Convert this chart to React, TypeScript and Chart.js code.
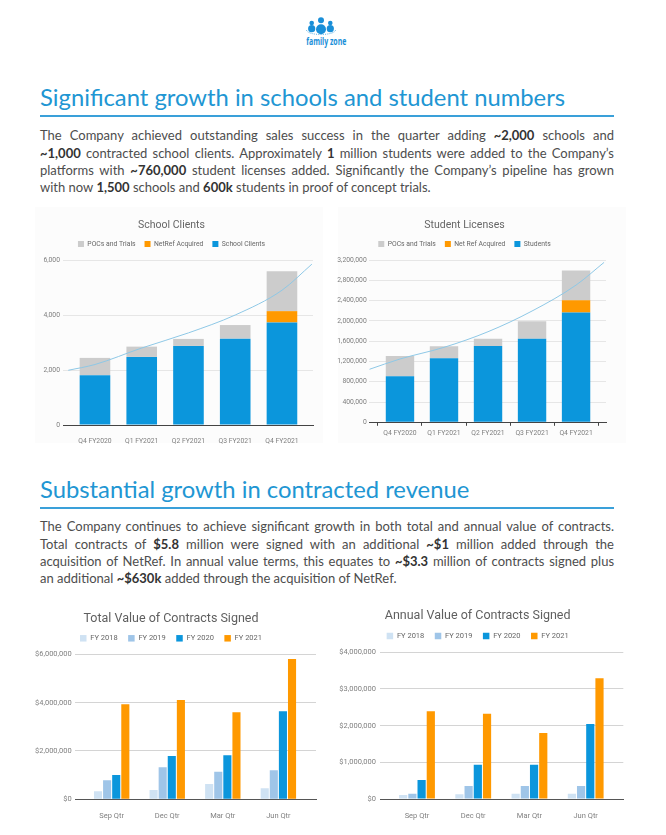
import React, { useEffect, useRef } from 'react';
import { Chart, registerables } from 'chart.js';

Chart.register(...registerables);

// ---------------- DATA ----------------
const quarters = ['Q4 FY2020', 'Q1 FY2021', 'Q2 FY2021', 'Q3 FY2021', 'Q4 FY2021'];

const schoolClients = [1810, 2475, 2875, 3140, 3730];
const schoolNetRef = [0, 0, 0, 0, 410];
const schoolPocs = [630, 375, 255, 495, 1450];
const schoolTrendX = [-0.571, 0, 1, 2, 3, 4, 4.64];
const schoolTrendY = [1990, 2200, 2800, 3350, 4000, 4900, 5850];

const students = [906000, 1261000, 1504000, 1649000, 2167000];
const studentNetRef = [0, 0, 0, 0, 237000];
const studentPocs = [401000, 236000, 145000, 341000, 591000];
const studentTrendX = [-0.697, 0, 1, 2, 3, 4, 4.636];
const studentTrendY = [1044000, 1248000, 1478000, 1786000, 2194000, 2706000, 3153000];

const contractQuarters = ['Sep Qtr', 'Dec Qtr', 'Mar Qtr', 'Jun Qtr'];
const fyLabels = ['FY 2018', 'FY 2019', 'FY 2020', 'FY 2021'];

const totalFY2018 = [331000, 386000, 634000, 455000];
const totalFY2019 = [786000, 1324000, 1145000, 1200000];
const totalFY2020 = [1007000, 1793000, 1821000, 3641000];
const totalFY2021 = [3931000, 4110000, 3600000, 5807000];

const annualFY2018 = [109000, 127000, 145000, 145000];
const annualFY2019 = [145000, 355000, 355000, 355000];
const annualFY2020 = [518000, 936000, 936000, 2045000];
const annualFY2021 = [2391000, 2327000, 1800000, 3291000];

// ---------------- STYLE ----------------
const BLUE = '#0b96dc';
const ORANGE = '#ff9900';
const GRAY = '#cccccc';
const FY18 = '#cfe2f3';
const FY19 = '#9fc5e8';
const TREND = '#8ec8e6';
const FONT = 'Roboto, "Noto Sans", sans-serif';
const HEAD = '#2196d3';
const TEXT = '#4d4d4d';

const pts = (arr: number[]) => arr.map((v, i) => ({ x: i, y: v }));
const xy = (xs: number[], ys: number[]) => xs.map((x, i) => ({ x, y: ys[i] }));

interface Frame {
  width: number; height: number;
  title: string; titleY: number; titleSize: number; titleColor: string;
  legendY: number; legendSize: number; legendBox: number; legendPad: number;
  areaTop: number; areaBottom: number; areaLeft: number; areaRight: number;
  xMin: number; xMax: number; yMax: number; yStep: number;
  yPad: number; xPad: number; xTicks: boolean; tickSize: number;
  gridColor: string; baseColor: string; money: boolean; stacked: boolean;
  categories: string[]; reverseLegend: boolean;
}

function buildOptions(f: Frame): any {
  const lh = f.titleSize * 1.2;
  const legendTop = f.legendY - f.legendPad - f.legendSize / 2;
  const legendBottom = f.legendY + f.legendSize / 2 + 10;
  const spacer = Math.max(1, f.areaTop - legendBottom);
  return {
    responsive: false,
    animation: false,
    layout: { padding: { left: 0, top: 0, bottom: 0, right: f.width - f.areaRight } },
    plugins: {
      title: {
        display: true,
        text: f.title,
        color: f.titleColor,
        font: { family: FONT, size: f.titleSize, weight: 'normal', lineHeight: 1.2 },
        padding: { top: f.titleY - lh / 2, bottom: legendTop - (f.titleY + lh / 2) },
      },
      subtitle: {
        display: true,
        text: '',
        weight: 500,
        font: { size: 1, lineHeight: 1 },
        padding: { top: spacer - 1, bottom: 0 },
      },
      legend: {
        display: true,
        position: 'top',
        reverse: f.reverseLegend,
        labels: {
          boxWidth: f.legendBox,
          boxHeight: f.legendBox,
          padding: f.legendPad,
          color: '#666666',
          font: { family: FONT, size: f.legendSize },
          filter: (item: any, data: any) => data.datasets[item.datasetIndex].type !== 'line',
        },
      },
      tooltip: { enabled: false },
    },
    scales: {
      x: {
        type: 'linear',
        min: f.xMin,
        max: f.xMax,
        offset: false,
        stacked: f.stacked,
        z: 1,
        grid: f.xTicks
          ? { display: true, drawOnChartArea: false, drawTicks: true, tickLength: 3.5, color: f.baseColor }
          : { display: false },
        border: { display: true, color: f.baseColor, width: 1 },
        ticks: {
          autoSkip: false,
          maxRotation: 0,
          padding: f.xPad,
          color: '#808080',
          font: { family: FONT, size: f.tickSize },
          callback: (v: number) => f.categories[Math.round(v)] ?? '',
        },
        afterBuildTicks: (s: any) => {
          s.ticks = f.categories.map((_, i) => ({ value: i }));
        },
        afterFit: (s: any) => {
          s.height = f.height - f.areaBottom;
        },
      },
      y: {
        min: 0,
        max: f.yMax,
        stacked: f.stacked,
        grid: { color: f.gridColor, drawTicks: false },
        border: { display: false },
        ticks: {
          stepSize: f.yStep,
          padding: f.yPad,
          color: '#808080',
          font: { family: FONT, size: f.tickSize },
          callback: (v: number) => (f.money ? '$' : '') + Number(v).toLocaleString('en-US'),
        },
        afterFit: (s: any) => {
          s.width = f.areaLeft;
        },
      },
    },
  };
}

function ChartBox(props: { left: number; top: number; width: number; height: number; make: () => any }) {
  const ref = useRef<HTMLCanvasElement>(null);
  useEffect(() => {
    const chart = new Chart(ref.current as HTMLCanvasElement, props.make());
    return () => chart.destroy();
  }, []);
  return (
    <div style={{ position: 'absolute', left: props.left, top: props.top, width: props.width, height: props.height }}>
      <canvas ref={ref} width={props.width} height={props.height} style={{ width: props.width, height: props.height, display: 'block' }} />
    </div>
  );
}

const topFrameBase = {
  width: 300, height: 240, titleSize: 10.5, titleColor: '#666666',
  legendSize: 6.8, legendBox: 6, legendPad: 9, tickSize: 6.8,
  gridColor: '#e6e6e6', baseColor: '#444444', money: false, stacked: true,
  categories: quarters, reverseLegend: true,
};

const schoolConfig = () => ({
  type: 'bar',
  data: {
    datasets: [
      { type: 'bar', label: 'School Clients', data: pts(schoolClients), backgroundColor: BLUE, order: 1, stack: 's', categoryPercentage: 0.655, barPercentage: 1 },
      { type: 'bar', label: 'NetRef Acquired', data: pts(schoolNetRef), backgroundColor: ORANGE, order: 1, stack: 's', categoryPercentage: 0.655, barPercentage: 1 },
      { type: 'bar', label: 'POCs and Trials', data: pts(schoolPocs), backgroundColor: GRAY, order: 1, stack: 's', categoryPercentage: 0.655, barPercentage: 1 },
      { type: 'line', label: 'Trend', data: xy(schoolTrendX, schoolTrendY), borderColor: TREND, borderWidth: 1, pointRadius: 0, cubicInterpolationMode: 'monotone', order: 0, stack: 't' },
    ],
  },
  options: buildOptions({
    ...topFrameBase,
    title: 'School Clients', titleY: 20, legendY: 39,
    areaTop: 55, areaBottom: 220, areaLeft: 33, areaRight: 283,
    xMin: -0.684, xMax: 4.664, yMax: 6000, yStep: 2000,
    yPad: 3, xPad: 4.6, xTicks: false,
  } as Frame),
});

const studentConfig = () => ({
  type: 'bar',
  data: {
    datasets: [
      { type: 'bar', label: 'Students', data: pts(students), backgroundColor: BLUE, order: 1, stack: 's', categoryPercentage: 0.645, barPercentage: 1 },
      { type: 'bar', label: 'Net Ref Acquired', data: pts(studentNetRef), backgroundColor: ORANGE, order: 1, stack: 's', categoryPercentage: 0.645, barPercentage: 1 },
      { type: 'bar', label: 'POCs and Trials', data: pts(studentPocs), backgroundColor: GRAY, order: 1, stack: 's', categoryPercentage: 0.645, barPercentage: 1 },
      { type: 'line', label: 'Trend', data: xy(studentTrendX, studentTrendY), borderColor: TREND, borderWidth: 1, pointRadius: 0, cubicInterpolationMode: 'monotone', order: 0, stack: 't' },
    ],
  },
  options: buildOptions({
    ...topFrameBase,
    title: 'Student Licenses', titleY: 20.7, legendY: 39,
    areaTop: 55, areaBottom: 217.3, areaLeft: 46.3, areaRight: 283,
    xMin: -0.697, xMax: 4.68, yMax: 3200000, yStep: 400000,
    yPad: 2.6, xPad: 3.8, xTicks: true,
  } as Frame),
});

const bottomFrameBase = {
  width: 300, height: 225, titleSize: 12.5, titleColor: '#5f5f5f',
  legendSize: 7.5, legendBox: 6.5, legendPad: 10.5, tickSize: 7.5,
  gridColor: '#d4d4d4', baseColor: '#555555', money: true, stacked: false,
  categories: contractQuarters, reverseLegend: false, xTicks: false,
};

const groupedSets = (a: number[], b: number[], c: number[], d: number[]) =>
  [a, b, c, d].map((arr, i) => ({
    type: 'bar',
    label: fyLabels[i],
    data: pts(arr),
    backgroundColor: [FY18, FY19, BLUE, ORANGE][i],
    categoryPercentage: 0.655,
    barPercentage: 0.89,
  }));

const totalConfig = () => ({
  type: 'bar',
  data: { datasets: groupedSets(totalFY2018, totalFY2019, totalFY2020, totalFY2021) },
  options: buildOptions({
    ...bottomFrameBase,
    title: 'Total Value of Contracts Signed', titleY: 21.3, legendY: 40.3,
    areaTop: 56.3, areaBottom: 201.3, areaLeft: 49, areaRight: 290,
    xMin: -0.66, xMax: 3.677, yMax: 6000000, yStep: 2000000,
    yPad: 3.3, xPad: 4.5,
  } as Frame),
});

const annualConfig = () => ({
  type: 'bar',
  data: { datasets: groupedSets(annualFY2018, annualFY2019, annualFY2020, annualFY2021) },
  options: buildOptions({
    ...bottomFrameBase,
    title: 'Annual Value of Contracts Signed', titleY: 18, legendY: 38,
    areaTop: 54.3, areaBottom: 201, areaLeft: 48, areaRight: 291.3,
    xMin: -0.658, xMax: 3.669, yMax: 4000000, yStep: 1000000,
    yPad: 4, xPad: 4.8,
  } as Frame),
});

// ---------------- TEXT ----------------
type Seg = [string, boolean];

const heading1 = 'Significant growth in schools and student numbers';
const heading2 = 'Substantial growth in contracted revenue';

const para1: Seg[][] = [
  [['The Company achieved outstanding sales success in the quarter adding ', false], ['~2,000', true], [' schools and', false]],
  [['~1,000', true], [' contracted school clients. Approximately ', false], ['1', true], [' million students were added to the Company\u2019s', false]],
  [['platforms with ', false], ['~760,000', true], [' student licenses added. Significantly the Company\u2019s pipeline has grown', false]],
  [['with now ', false], ['1,500', true], [' schools and ', false], ['600k', true], [' students in proof of concept trials.', false]],
];

const para2: Seg[][] = [
  [['The Company continues to achieve significant growth in both total and annual value of contracts.', false]],
  [['Total contracts of ', false], ['$5.8', true], [' million were signed with an additional ', false], ['~$1', true], [' million added through the', false]],
  [['acquisition of NetRef. In annual value terms, this equates to ', false], ['~$3.3', true], [' million of contracts signed plus', false]],
  [['an additional ', false], ['~$630k', true], [' added through the acquisition of NetRef.', false]],
];

function Para({ lines, top }: { lines: Seg[][]; top: number }) {
  return (
    <>
      {lines.map((segs, i) => (
        <div
          key={i}
          style={{
            position: 'absolute', left: 40, width: 574, top: top + i * 17.3,
            fontFamily: 'Lato, sans-serif', fontSize: 13, lineHeight: '17.3px', color: TEXT,
            textAlign: 'justify', textAlignLast: i === lines.length - 1 ? 'left' : 'justify',
          } as any}
        >
          {segs.map(([t, b], j) => (b ? <b key={j} style={{ fontWeight: 700, color: '#333' }}>{t}</b> : <span key={j}>{t}</span>))}
        </div>
      ))}
    </>
  );
}

function Heading({ text, top, lineTop }: { text: string; top: number; lineTop: number }) {
  return (
    <>
      <div style={{ position: 'absolute', left: 40, top, fontFamily: 'Lato, sans-serif', fontSize: 23.8, lineHeight: '28.8px', color: HEAD, whiteSpace: 'nowrap' }}>{text}</div>
      <div style={{ position: 'absolute', left: 40, top: lineTop, width: 574, height: 1.5, background: '#3aa0d9' }} />
    </>
  );
}

function Logo() {
  return (
    <svg style={{ position: 'absolute', left: 296, top: 12 }} width={62} height={40} viewBox="0 0 62 40">
      <circle cx={15.7} cy={11} r={2.3} fill="#1a8fd8" />
      <circle cx={25} cy={8.3} r={3} fill="#1a8fd8" />
      <circle cx={34.3} cy={11} r={2.3} fill="#1a8fd8" />
      <circle cx={15.7} cy={16.7} r={3.6} fill="#1a8fd8" />
      <circle cx={34.3} cy={16.7} r={3.6} fill="#1a8fd8" />
      <circle cx={25} cy={17.3} r={5} fill="#1a8fd8" />
      <path d="M10.5 18 A14.5 4.5 0 0 0 39.5 18" fill="none" stroke="#1a8fd8" strokeWidth={0.8} strokeDasharray="1 1.2" />
      <text x={30.3} y={33} textAnchor="middle" fontFamily="'Open Sans', sans-serif" fontWeight={700} fontSize={10} fill="#1a8fd8" textLength={40} lengthAdjust="spacingAndGlyphs">family zone</text>
    </svg>
  );
}

export default function App() {
  return (
    <div style={{ position: 'fixed', left: 0, top: 0, width: 666, height: 835, background: '#ffffff', overflow: 'hidden' }}>
      <Logo />
      <Heading text={heading1} top={83} lineTop={115} />
      <Para lines={para1} top={127.3} />
      <div style={{ position: 'absolute', left: 35, top: 207, width: 288, height: 236, background: '#fcfcfc' }} />
      <div style={{ position: 'absolute', left: 338, top: 207, width: 288, height: 236, background: '#fcfcfc' }} />
      <ChartBox left={30} top={205} width={300} height={240} make={schoolConfig} />
      <ChartBox left={323} top={205} width={300} height={240} make={studentConfig} />
      <Heading text={heading2} top={475} lineTop={507} />
      <Para lines={para2} top={518.3} />
      <ChartBox left={26} top={598} width={300} height={225} make={totalConfig} />
      <ChartBox left={332} top={598} width={300} height={225} make={annualConfig} />
    </div>
  );
}
